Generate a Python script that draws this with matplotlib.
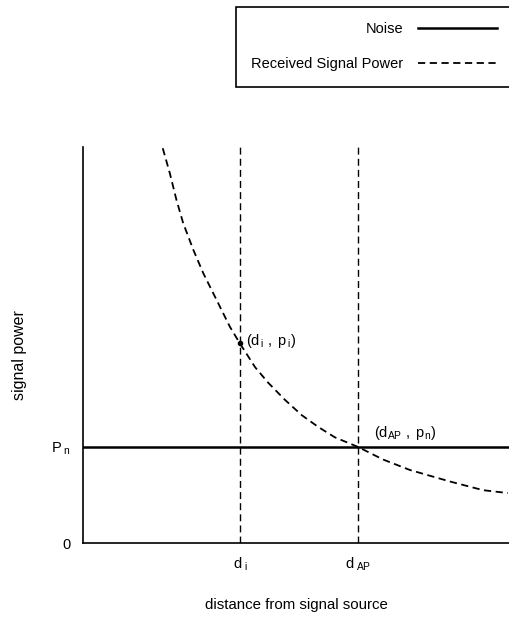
import matplotlib
matplotlib.use("Agg")
import matplotlib.pyplot as plt

fam = 'Liberation Sans'
plt.rcParams['font.family'] = [fam, 'DejaVu Sans']
plt.rcParams['mathtext.fontset'] = 'custom'
plt.rcParams['mathtext.rm'] = fam
plt.rcParams['mathtext.it'] = fam

# values
d_i = 4.0
d_ap = 7.0
p_n = 1.0
p_i = 2.08
curve_x = [2.03, 2.21, 2.38, 2.55, 2.81, 3.06, 3.40, 3.74, 3.99, 4.38, 4.71,
           5.14, 5.57, 5.98, 6.41, 7.0, 7.63, 8.32, 9.34, 10.18, 10.81]
curve_y = [4.11, 3.85, 3.57, 3.33, 3.05, 2.81, 2.53, 2.25, 2.08, 1.83, 1.67,
           1.49, 1.33, 1.21, 1.10, 1.0, 0.87, 0.76, 0.64, 0.55, 0.52]
x_ticks = [d_i, d_ap]
x_ticklabels = ['$\\mathregular{d_{\\ i}}$', '$\\mathregular{d_{\\ AP}}$']
y_ticks = [0, p_n]
y_ticklabels = ['0', '$\\mathregular{P_{\\ n}}$']
x_max = 10.84
y_max = 4.125

fig = plt.figure(figsize=(5.09, 6.21), dpi=100)
ax = fig.add_axes([0.163, 0.1256, 0.837, 0.638])

noise, = ax.plot([0, x_max], [p_n, p_n], color='black', lw=1.8, label='Noise')
sig, = ax.plot(curve_x, curve_y, color='black', lw=1.3, ls=(0, (4, 2.5)),
               label='Received Signal Power')
ax.plot([d_i, d_i], [0, y_max], color='black', lw=1.0, ls=(0, (5, 3)))
ax.plot([d_ap, d_ap], [0, y_max], color='black', lw=1.0, ls=(0, (5, 3)))
ax.plot([d_i], [p_i], 'o', color='black', ms=3)

ax.text(d_i + 0.15, p_i + 0.02, '$\\mathregular{(d_{\\,i}\\ ,\\ p_{\\,i})}$', fontsize=10.5, va='center')
ax.text(d_ap + 0.4, p_n + 0.15, '$\\mathregular{(d_{AP}\\ ,\\ p_{n})}$', fontsize=10.5, va='center')

ax.set_xlim(0, x_max)
ax.set_ylim(0, y_max)
ax.set_xticks(x_ticks)
ax.set_xticklabels(x_ticklabels, fontsize=10.5)
ax.set_yticks(y_ticks)
ax.set_yticklabels(y_ticklabels, fontsize=10.5)
ax.tick_params(axis='x', length=0, pad=9)
ax.tick_params(axis='y', length=0, pad=9)
ax.spines['top'].set_visible(False)
ax.spines['right'].set_visible(False)
for s in ['left', 'bottom']:
    ax.spines[s].set_linewidth(1.2)

ax.set_xlabel('distance from signal source', fontsize=10.8)
ax.xaxis.set_label_coords(0.5, -0.157)
ax.xaxis.label.set_va('center')
ax.set_ylabel('signal power', fontsize=11.5)
ax.yaxis.set_label_coords(-0.150, 0.475)
ax.yaxis.label.set_va('center')

leg = fig.legend(handles=[noise, sig], loc='upper right', bbox_to_anchor=(512 / 509, 1 - 7 / 621),
                 borderaxespad=0, markerfirst=False, fancybox=False, edgecolor='black',
                 framealpha=1, handlelength=5.4, handletextpad=1.0, labelspacing=1.45,
                 fontsize=10.5, borderpad=1.05)
leg.get_frame().set_linewidth(1.2)

fig.savefig('out.png', dpi=100)
